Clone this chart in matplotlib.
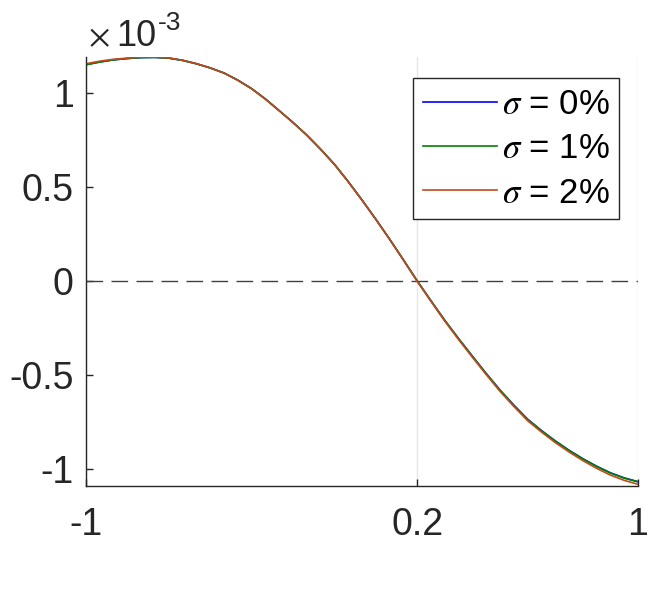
import matplotlib
matplotlib.use("Agg")
import matplotlib.pyplot as plt
from matplotlib.ticker import FuncFormatter

# ── style ──────────────────────────────────────────────────────────────
plt.rcParams.update({
    "font.family": ["Liberation Sans", "DejaVu Sans"],
    "mathtext.fontset": "stix",
    "figure.dpi": 100,
})

C_TEXT = "#262626"
C_S0 = "#0000ff"
C_S1 = "#008000"
C_S2 = "#c04a1a"

# ── data (y in units of 1e-3) ──────────────────────────────────────────
x = [-1.00, -0.95, -0.90, -0.85, -0.80, -0.75, -0.70, -0.65, -0.60, -0.55,
     -0.50, -0.45, -0.40, -0.35, -0.30, -0.25, -0.20, -0.15, -0.10, -0.05,
     0.00, 0.05, 0.10, 0.15, 0.20, 0.25, 0.30, 0.35, 0.40, 0.45,
     0.50, 0.55, 0.60, 0.65, 0.70, 0.75, 0.80, 0.85, 0.90, 0.95, 1.00]
sigma0 = [1.150, 1.164, 1.175, 1.182, 1.187, 1.188, 1.184, 1.172, 1.154, 1.132,
          1.105, 1.067, 1.022, 0.967, 0.905, 0.842, 0.775, 0.700, 0.620, 0.528,
          0.430, 0.328, 0.222, 0.112, 0.000, -0.106, -0.210, -0.307, -0.400, -0.492,
          -0.580, -0.660, -0.735, -0.795, -0.850, -0.900, -0.945, -0.985, -1.020, -1.047, -1.067]
sigma1 = [1.148, 1.163, 1.175, 1.182, 1.187, 1.188, 1.184, 1.172, 1.154, 1.132,
          1.105, 1.067, 1.022, 0.967, 0.905, 0.842, 0.775, 0.700, 0.620, 0.528,
          0.430, 0.328, 0.222, 0.112, 0.000, -0.106, -0.210, -0.307, -0.401, -0.493,
          -0.581, -0.661, -0.736, -0.796, -0.851, -0.901, -0.946, -0.986, -1.021, -1.048, -1.068]
sigma2 = [1.154, 1.168, 1.178, 1.184, 1.189, 1.189, 1.185, 1.173, 1.155, 1.132,
          1.105, 1.066, 1.021, 0.966, 0.904, 0.841, 0.774, 0.699, 0.619, 0.527,
          0.429, 0.327, 0.221, 0.111, -0.002, -0.109, -0.214, -0.312, -0.406, -0.498,
          -0.587, -0.667, -0.743, -0.803, -0.859, -0.909, -0.955, -0.996, -1.032, -1.060, -1.081]
scale = 1e-3
labels = [r"$\sigma$ = 0%", r"$\sigma$ = 1%", r"$\sigma$ = 2%"]
xticks = [-1, 0.2, 1]
xticklabels = ["-1", "0.2", "1"]
yticks = [-1e-3, -0.5e-3, 0, 0.5e-3, 1e-3]

# ── figure ─────────────────────────────────────────────────────────────
fig = plt.figure(figsize=(6.67, 6.05))
ax = fig.add_axes([86/667, 1 - 486/605, 552/667, 429/605])

for ys, c, lab in zip([sigma0, sigma1, sigma2], [C_S0, C_S1, C_S2], labels):
    ax.plot(x, [v * scale for v in ys], color=c, lw=1.2, label=lab)

ax.axhline(0, color="#404040", lw=1.0, ls=(0, (12, 6)), zorder=1)

ax.set_xlim(-1, 1)
ax.set_ylim(-1.09e-3, 1.19e-3)
ax.set_xticks(xticks)
ax.set_xticklabels(xticklabels)
ax.set_yticks(yticks)
ax.yaxis.set_major_formatter(FuncFormatter(lambda v, p: f"{v/scale:g}"))
ax.grid(axis="x", color="#e6e6e6", lw=1.0, zorder=0)
ax.set_axisbelow(True)

for s in ["top", "right"]:
    ax.spines[s].set_visible(False)
for s in ["left", "bottom"]:
    ax.spines[s].set_color(C_TEXT)
    ax.spines[s].set_linewidth(1.0)

ax.tick_params(axis="both", direction="in", length=5, width=1.0, color=C_TEXT,
               labelsize=27, labelcolor=C_TEXT)
ax.tick_params(axis="y", pad=9)
ax.tick_params(axis="x", pad=15)

# exponent label (MATLAB style, top-left)
fig.text(88/667, 1 - 46/605, r"$\times$", fontsize=24, color=C_TEXT, ha="left", va="baseline")
fig.text(116/667, 1 - 46/605, "10", fontsize=26, color=C_TEXT, ha="left", va="baseline")
fig.text(158/667, 1 - 30/605, "-3", fontsize=19, color=C_TEXT, ha="left", va="baseline")

leg = ax.legend(loc="upper left", bbox_to_anchor=((413 - 86) / 552, (486 - 78) / 429),
                borderaxespad=0, fontsize=25, handlelength=2.15, handletextpad=0.12,
                labelspacing=0.33, borderpad=0.28, fancybox=False, framealpha=1,
                edgecolor=C_TEXT)
leg.get_frame().set_linewidth(1.0)
for t in leg.get_texts():
    t.set_color("black")

fig.savefig("out.png", dpi=100)
